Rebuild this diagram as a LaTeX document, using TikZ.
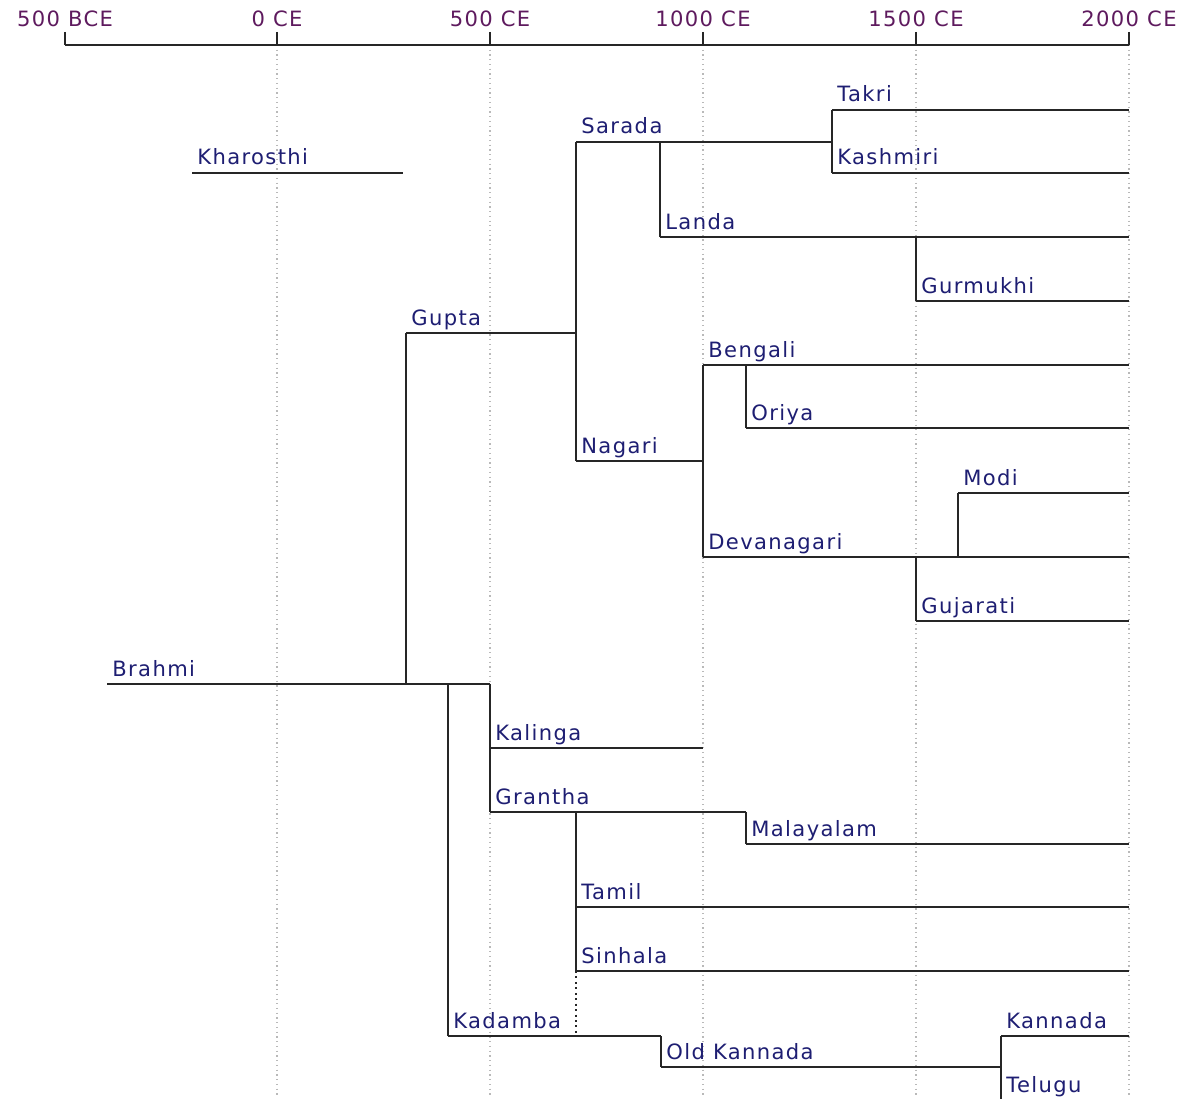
\documentclass[tikz,border=0pt]{standalone}
\usepackage{fontspec}
\setmainfont{DejaVu Sans}[LetterSpace=6.5]
\usepackage{tikz}

\definecolor{scriptblue}{HTML}{1E1E72}
\definecolor{erapurple}{HTML}{5E1A5E}

\begin{document}
\begin{tikzpicture}[x=0.02cm,y=-0.02cm,
    branch/.style={line width=1.1pt,black!85},
    gridline/.style={gray!55,dotted,line width=0.7pt},
    script/.style={text=scriptblue,font=\fontsize{12}{14}\selectfont,inner sep=0pt,anchor=base west},
    era/.style={text=erapurple,font=\fontsize{12}{14}\selectfont,inner sep=0pt,anchor=base}]
    \useasboundingbox (0,0) rectangle (1182,1098);
    \clip (0,0) rectangle (1182,1098);

    % time grid and axis
    \foreach \x in {277,490,703,916,1129} {
        \draw[gridline] (\x,45) -- (\x,1098);
      }
    \draw[branch] (65,45) -- (1129,45);
    \foreach \x/\t in {65/500 BCE,277/0 CE,490/500 CE,703/1000 CE,916/1500 CE,1129/2000 CE} {
        \draw[branch] (\x,32) -- (\x,45);
        \node[era] (era\x) at (\x,27) {\t};
      }

    % scripts: start of line, end of line, height
    \foreach \id/\xa/\xb/\y/\t in {
        Kharosthi/192/403/173/Kharosthi,
        Brahmi/107/490/684/Brahmi,
        Gupta/406/576/333/Gupta,
        Sarada/576/832/142/Sarada,
        Nagari/576/703/461/Nagari,
        Takri/832/1129/110/Takri,
        Kashmiri/832/1129/173/Kashmiri,
        Landa/660/1129/237/Landa,
        Gurmukhi/916/1129/301/Gurmukhi,
        Bengali/703/1129/365/Bengali,
        Oriya/746/1129/428/Oriya,
        Devanagari/703/1129/557/Devanagari,
        Modi/958/1129/493/Modi,
        Gujarati/916/1129/621/Gujarati,
        Kalinga/490/703/748/Kalinga,
        Grantha/490/746/812/Grantha,
        Malayalam/746/1129/844/Malayalam,
        Tamil/576/1129/907/Tamil,
        Sinhala/576/1129/971/Sinhala,
        Kadamba/448/661/1036/Kadamba,
        OldKannada/661/1001/1067/Old Kannada,
        Kannada/1001/1129/1036/Kannada,
        Telugu/1001/1129/1100/Telugu} {
        \coordinate (\id) at (\xa,\y);
        \draw[branch] (\id) -- (\xb,\y);
        \node[script] (\id-label) at (\xa+5,\y-8) {\t};
      }

    % splits
    \draw[branch] (Gupta) -- (Gupta |- Brahmi);
    \draw[branch] (Sarada) -- (Nagari);
    \draw[branch] (Takri) -- (Kashmiri);
    \draw[branch] (Landa) -- (Landa |- Sarada);
    \draw[branch] (Gurmukhi) -- (Gurmukhi |- Landa);
    \draw[branch] (Bengali) -- (Devanagari);
    \draw[branch] (Oriya) -- (Oriya |- Bengali);
    \draw[branch] (Modi) -- (Modi |- Devanagari);
    \draw[branch] (Gujarati) -- (Gujarati |- Devanagari);
    \draw[branch] (Kalinga |- Brahmi) -- (Grantha);
    \draw[branch] (Malayalam) -- (Malayalam |- Grantha);
    \draw[branch] (Tamil |- Grantha) -- (Sinhala);
    \draw[branch,dotted,line width=0.9pt] (Sinhala) -- (Sinhala |- Kadamba);
    \draw[branch] (Kadamba) -- (Kadamba |- Brahmi);
    \draw[branch] (OldKannada) -- (OldKannada |- Kadamba);
    \draw[branch] (Kannada) -- (Telugu);
  \end{tikzpicture}
\end{document}
